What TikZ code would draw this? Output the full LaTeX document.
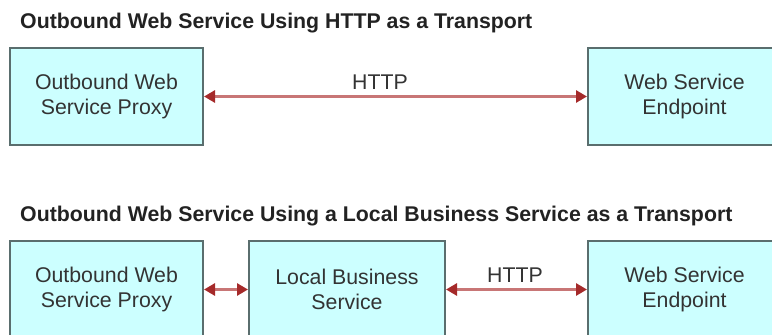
\documentclass[tikz,border=0pt]{standalone}
\usepackage{fontspec}
\setmainfont{Liberation Sans}
\usetikzlibrary{arrows.meta}
\definecolor{boxfill}{HTML}{CCFFFF}
\definecolor{boxline}{HTML}{5A6E6E}
\definecolor{arrline}{HTML}{C87676}
\definecolor{arrhead}{HTML}{A52A2A}
\definecolor{txt}{HTML}{333333}
\definecolor{ttl}{HTML}{222222}
\begin{document}
\begin{tikzpicture}[x=1pt,y=-1pt,
  box/.style={draw=boxline, fill=boxfill, line width=2pt, minimum width=193pt,
    minimum height=97pt, align=center, inner sep=0pt, text=txt,
    font=\fontsize{21.3}{25}\selectfont, anchor=west},
  ttlnode/.style={anchor=base west, inner sep=0pt, text=ttl,
    font=\fontsize{21.3}{25}\selectfont\bfseries},
  lbl/.style={anchor=base, inner sep=0pt, text=txt,
    font=\fontsize{21.3}{25}\selectfont},
  link/.style={draw=arrline, line width=3.5pt,
    {Triangle[length=11pt,width=12pt,color=arrhead]}-{Triangle[length=11pt,width=12pt,color=arrhead]}}]
\useasboundingbox (0,0) rectangle (772,335);
\clip (0,0) rectangle (772,335);
% top diagram
\node[ttlnode] (t1) at (20,28) {Outbound Web Service Using HTTP as a Transport};
\node[box] (p1) at (9,96.5) {Outbound Web\\Service Proxy};
\node[box] (e1) at (587,96.5) {Web Service\\Endpoint};
\draw[link] (p1.east) -- (e1.west);
\node[lbl] (h1) at (380,89) {HTTP};
% bottom diagram
\node[ttlnode] (t2) at (20,221) {Outbound Web Service Using a Local Business Service as a Transport};
\node[box] (p2) at (9,289.5) {Outbound Web\\Service Proxy};
\node[box, minimum width=196pt] (l2) at (248,289.5) {Local Business\\Service};
\node[box] (e2) at (587,289.5) {Web Service\\Endpoint};
\draw[link] (p2.east) -- (l2.west);
\draw[link] (l2.east) -- (e2.west);
\node[lbl] (h2) at (515,282) {HTTP};
\end{tikzpicture}
\end{document}
